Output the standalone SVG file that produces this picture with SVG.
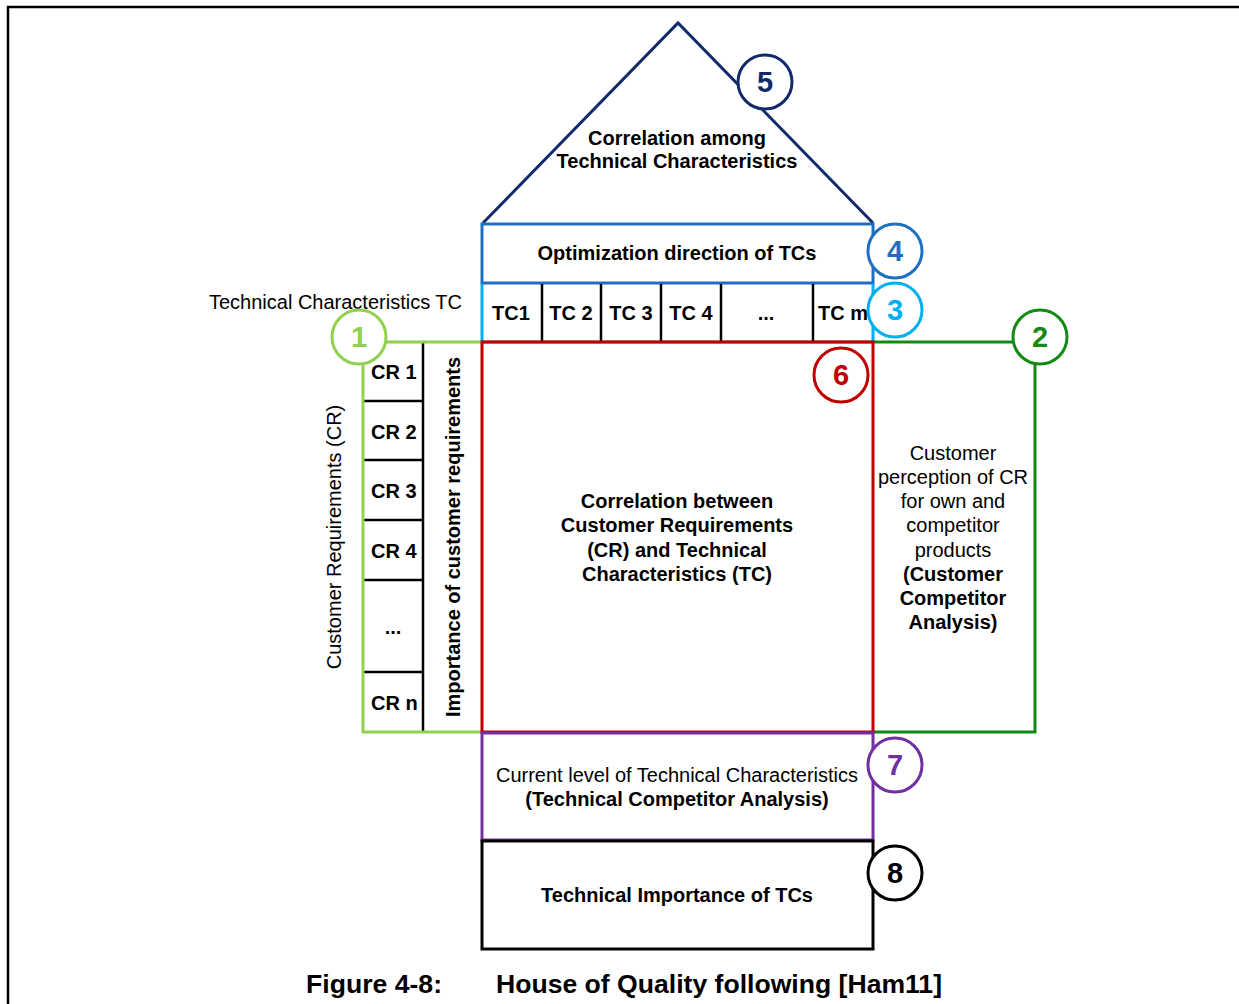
<svg xmlns="http://www.w3.org/2000/svg" width="1239" height="1004" viewBox="0 0 1239 1004">
  <style>
    text { font-family: "Liberation Sans", Arial, sans-serif; fill: #000; }
    .b { font-weight: bold; font-size: 20px; }
    .r { font-size: 20px; }
    .c { text-anchor: middle; }
    .num { font-weight: bold; font-size: 29px; text-anchor: middle; }
    .ring { fill: #fff; stroke-width: 3; }
    .cell { fill: none; stroke: #000; stroke-width: 2.5; }
    .cap { font-family: "Liberation Sans Narrow", "Liberation Sans", Arial, sans-serif; font-weight: bold; font-size: 26px; }
  </style>

  <rect width="1239" height="1004" fill="#fff"/>
  <!-- page frame -->
  <path d="M8,1004 V7 H1239" fill="none" stroke="#000" stroke-width="2.5"/>

  <!-- roof: correlation among TCs -->
  <g id="roof">
    <path d="M483,223 L678,23 L873,223" fill="none" stroke="#112A6A" stroke-width="3"/>
    <text class="b c" x="677" y="145">Correlation among</text>
    <text class="b c" x="677" y="168">Technical Characteristics</text>
  </g>

  <!-- optimization direction -->
  <g id="optimization">
    <rect x="482" y="224" width="391" height="59" fill="none" stroke="#1F6FC0" stroke-width="3"/>
    <text class="b c" x="677" y="260">Optimization direction of TCs</text>
  </g>

  <!-- technical characteristics row -->
  <g id="tc-row">
    <path class="cell" d="M482,342 H873 M542,284 V342 M601,284 V342 M661,284 V342 M721,284 V342 M813,284 V342"/>
    <path d="M482,284 V342 M873,284 V342" stroke="#00B0F0" stroke-width="3" fill="none"/>
    <text class="b c" x="511" y="320">TC1</text>
    <text class="b c" x="571" y="320">TC 2</text>
    <text class="b c" x="631" y="320">TC 3</text>
    <text class="b c" x="691" y="320">TC 4</text>
    <text class="b c" x="766" y="320">...</text>
    <text class="b" x="818" y="320">TC m</text>
  </g>
  <text class="r" x="462" y="309" text-anchor="end">Technical Characteristics TC</text>

  <!-- customer requirements column -->
  <g id="cr-column">
    <path class="cell" d="M423,342 V732 M363,401 H423 M363,460 H423 M363,520 H423 M363,580 H423 M363,672 H423"/>
    <text class="b" x="371" y="379">CR 1</text>
    <text class="b" x="371" y="439">CR 2</text>
    <text class="b" x="371" y="498">CR 3</text>
    <text class="b" x="371" y="558">CR 4</text>
    <text class="b c" x="393" y="634">...</text>
    <text class="b" x="371" y="710">CR n</text>
    <text class="b c" transform="translate(460,537) rotate(-90)">Importance of customer requirements</text>
    <text class="r c" transform="translate(341,537) rotate(-90)">Customer Requirements (CR)</text>
  </g>

  <!-- customer competitor analysis -->
  <g id="customer-analysis">
    <text class="r c" x="953" y="460">Customer</text>
    <text class="r c" x="953" y="484">perception of CR</text>
    <text class="r c" x="953" y="508">for own and</text>
    <text class="r c" x="953" y="532">competitor</text>
    <text class="r c" x="953" y="557">products</text>
    <text class="b c" x="953" y="581">(Customer</text>
    <text class="b c" x="953" y="605">Competitor</text>
    <text class="b c" x="953" y="629">Analysis)</text>
  </g>

  <!-- region outlines leading to the numbered markers -->
  <g id="connectors" fill="none" stroke-width="3">
    <path d="M482,342 H363 V732 H482" stroke="#92D050"/>
    <path d="M873,342 H1035 V732 H873" stroke="#138A13"/>
  </g>

  <!-- relationship matrix -->
  <g id="matrix">
    <rect x="482" y="342" width="391" height="390" fill="none" stroke="#C00000" stroke-width="3"/>
    <text class="b c" x="677" y="508">Correlation between</text>
    <text class="b c" x="677" y="532">Customer Requirements</text>
    <text class="b c" x="677" y="557">(CR) and Technical</text>
    <text class="b c" x="677" y="581">Characteristics (TC)</text>
  </g>

  <!-- technical competitor analysis -->
  <g id="technical-analysis">
    <rect x="482" y="733" width="391" height="107" fill="none" stroke="#7030A0" stroke-width="3"/>
    <text class="r c" x="677" y="782">Current level of Technical Characteristics</text>
    <text class="b c" x="677" y="806">(Technical Competitor Analysis)</text>
  </g>

  <!-- technical importance -->
  <g id="technical-importance">
    <rect x="482" y="841" width="391" height="108" fill="none" stroke="#000" stroke-width="3"/>
    <text class="b c" x="677" y="902">Technical Importance of TCs</text>
  </g>

  <!-- numbered markers -->
  <g id="marker-1"><circle class="ring" cx="359" cy="337" r="27" stroke="#92D050"/><text class="num" x="359" y="347" fill="#92D050" style="fill:#92D050">1</text></g>
  <g id="marker-2"><circle class="ring" cx="1040" cy="337" r="27" stroke="#138A13"/><text class="num" x="1040" y="347" style="fill:#138A13">2</text></g>
  <g id="marker-3"><circle class="ring" cx="895" cy="310" r="27" stroke="#00B0F0"/><text class="num" x="895" y="320" style="fill:#00B0F0">3</text></g>
  <g id="marker-4"><circle class="ring" cx="895" cy="251" r="27" stroke="#1F6FC0"/><text class="num" x="895" y="261" style="fill:#1F6FC0">4</text></g>
  <g id="marker-5"><circle class="ring" cx="765" cy="82" r="27" stroke="#112A6A"/><text class="num" x="765" y="92" style="fill:#112A6A">5</text></g>
  <g id="marker-6"><circle class="ring" cx="841" cy="375" r="27" stroke="#C00000"/><text class="num" x="841" y="385" style="fill:#C00000">6</text></g>
  <g id="marker-7"><circle class="ring" cx="895" cy="765" r="27" stroke="#7030A0"/><text class="num" x="895" y="775" style="fill:#7030A0">7</text></g>
  <g id="marker-8"><circle class="ring" cx="895" cy="873" r="27" stroke="#000"/><text class="num" x="895" y="883">8</text></g>

  <!-- caption -->
  <text class="cap" x="306" y="993" textLength="136" lengthAdjust="spacingAndGlyphs">Figure 4-8:</text>
  <text class="cap" x="496" y="993" textLength="446" lengthAdjust="spacingAndGlyphs">House of Quality following [Ham11]</text>
</svg>
